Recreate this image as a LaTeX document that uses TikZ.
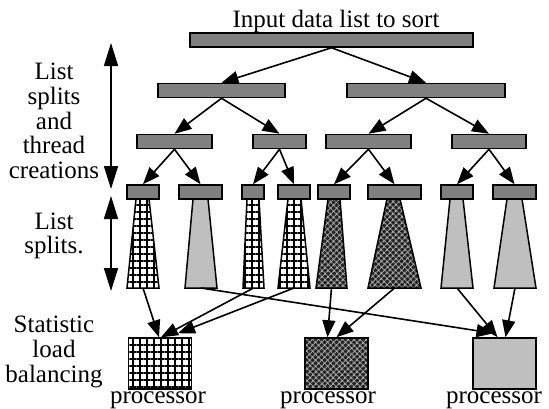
\documentclass[tikz,border=0pt]{standalone}
\usepackage{fontspec}
\setmainfont{Liberation Serif}
\usetikzlibrary{arrows.meta,patterns.meta}

\tikzset{
    bar/.style={draw,line width=1.5pt,fill=black!50,minimum height=14pt,inner sep=0pt},
    proc/.style={draw,line width=1.5pt,minimum width=63pt,minimum height=51pt,inner sep=0pt},
    checks/.style={pattern={Hatch[angle=0,distance=7pt,line width=1.6pt]}},
    weave/.style={preaction={fill=black!85},pattern={Hatch[angle=45,distance=4pt,line width=0.9pt]},pattern color=black!30},
    greyfill/.style={fill=black!25},
    link/.style={line width=1.6pt,-{Triangle[length=17pt,width=13pt]}},
    stage/.style={line width=1.6pt,{Triangle[length=23pt,width=14pt]}-{Triangle[length=23pt,width=14pt]}},
    lbl/.style={font=\fontsize{25}{24.7}\selectfont,align=center,inner sep=0pt},
}

\begin{document}
\begin{tikzpicture}[x=1pt,y=-1pt]
    % units are points, y grows downwards
    \useasboundingbox (0,0) rectangle (549,408);
            \node[lbl,anchor=base] (title) at (336,27) {Input data list to sort};
            % splitting tree
            \node[bar,minimum width=283pt] (top) at (331.5,40) {};
            \node[bar,minimum width=127pt] (a1) at (221.5,90.5) {};
            \node[bar,minimum width=158pt] (a2) at (426,90.5) {};
            \foreach \l/\r [count=\i] in {137/212,253/306,326/411,452/526}
                \node[bar,minimum width={\r-\l}] (b\i) at ({(\l+\r)/2},141.5) {};
            \foreach \l/\r [count=\i] in {127/159,179/222,242/264,278/310,318/350,368/421,441/473,493/536}
                \node[bar,minimum width={\r-\l}] (c\i) at ({(\l+\r)/2},192) {};
            \draw[link] (top.south) -- (a1.north);
            \draw[link] (top.south) -- (a2.north);
            \draw[link] (a1.south) -- (b1.north);
            \draw[link] (a1.south) -- (b2.north);
            \draw[link] (a2.south) -- (b3.north);
            \draw[link] (a2.south) -- (b4.north);
            \foreach \p/\u/\v in {1/1/2,2/3/4,3/5/6,4/7/8} {
                \draw[link] (b\p.south) -- (c\u.north);
                \draw[link] (b\p.south) -- (c\v.north);
            }
            % sorted pieces under each list
            \foreach \a/\b/\c/\d/\s [count=\i] in {136/149/127/159/checks,193/208/185/217/greyfill,247/259/243/264/checks,288/301/278/310/checks,328/340/316/347/weave,387/400/368/421/weave,450/463/441/473/greyfill,507/522/494/536/greyfill} {
                \draw[line width=1.5pt,\s] (\a,199) -- (\b,199) -- (\d,288) -- (\c,288) -- cycle;
                \coordinate (t\i) at ({(\c+\d)/2},288);
            }
            % processors
            \node[proc,checks] (p1) at (160,363.5) {};
            \node[proc,weave] (p2) at (336.5,363.5) {};
            \node[proc,greyfill] (p3) at (504.5,363.5) {};
            \node[lbl,anchor=base] (n1) at (158,403) {processor};
            \node[lbl,anchor=base] (n2) at (328,403) {processor};
            \node[lbl,anchor=base] (n3) at (494,403) {processor};
            \draw[link] (t1) -- ([xshift=-1pt]p1.north);
            \draw[link] (t3) -- ([xshift=1pt]p1.north);
            \draw[link] (t4) -- ([xshift=18pt,yshift=4pt]p1.north);
            \draw[link] (t5) -- ([xshift=-9pt]p2.north);
            \draw[link] (t6) -- (p2.north);
            \draw[link] (t2) -- ([xshift=-11pt,yshift=4pt]p3.north);
            \draw[link] (t7) -- ([xshift=-7pt]p3.north);
            \draw[link] (t8) -- ([xshift=1pt]p3.north);
            % stages on the left
            \coordinate (s1) at (111,43);
            \coordinate (s2) at (111,189);
            \coordinate (s3) at (111,196);
            \coordinate (s4) at (111,291);
            \draw[stage] (s1) -- (s2);
            \draw[stage] (s3) -- (s4);
            \node[lbl] (split) at (54,121) {List\\splits\\and\\thread\\creations};
            \node[lbl] (split2) at (54,236) {List\\splits.};
            \node[lbl] (balance) at (54,352) {Statistic\\load\\balancing};
        \end{tikzpicture}
\end{document}
